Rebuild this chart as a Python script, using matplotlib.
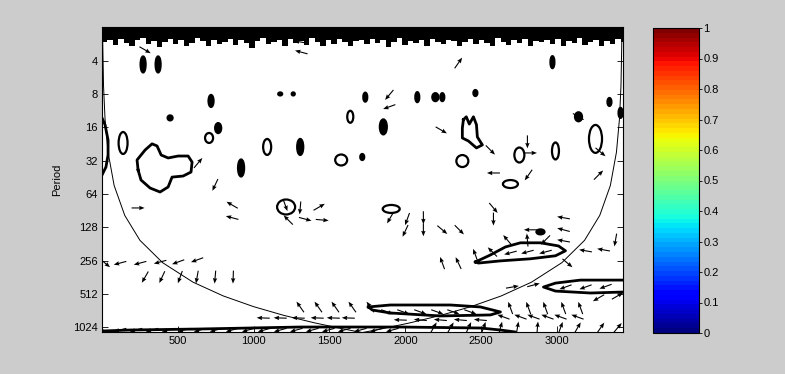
import numpy as np
import matplotlib as mpl
import matplotlib.pyplot as plt
from matplotlib.patches import Ellipse

plt.rcParams['font.family'] = ['Liberation Sans', 'DejaVu Sans']
plt.rcParams['font.size'] = 8

# axes
t_max = 3432
period_lim = [1.97, 1136]
period_ticks = [4, 8, 16, 32, 64, 128, 256, 512, 1024]
time_ticks = [500, 1000, 1500, 2000, 2500, 3000]
cbar_ticks = [0, 0.1, 0.2, 0.3, 0.4, 0.5, 0.6, 0.7, 0.8, 0.9, 1]

# ragged dark band at the shortest periods (lower edge, every 36 time steps)
band_period = [2.7, 2.6, 2.85, 2.55, 2.75, 2.9, 2.6, 2.5, 2.8, 2.65, 3.0, 2.7, 2.55, 2.8, 2.6, 2.9,
               2.75, 2.5, 2.65, 2.95, 2.6, 2.8, 2.7, 2.55, 2.85, 2.6, 2.75, 3.05, 2.65, 2.5, 2.8, 2.7,
               2.6, 2.9, 2.55, 2.75, 2.65, 2.85, 2.5, 2.7, 2.95, 2.6, 2.8, 2.55, 2.7, 2.9, 2.65, 2.6,
               2.8, 2.55, 2.75, 2.6, 3.0, 2.7, 2.5, 2.85, 2.65, 2.75, 2.6, 2.9, 2.55, 2.7, 2.8, 2.6,
               2.65, 2.9, 2.7, 2.55, 2.8, 2.6, 2.75, 2.95, 2.5, 2.7, 2.85, 2.6, 2.75, 2.55, 2.9, 2.65,
               2.7, 2.6, 2.8, 2.55, 2.9, 2.65, 2.75, 2.5, 2.85, 2.7, 2.6, 2.95, 2.65, 2.8, 2.55, 2.7]

# cone of influence
coi_t = [3, 10, 20, 40, 80, 150, 250, 400, 600, 800, 1000, 1200, 1400, 1600, 1716,
         1832, 2032, 2232, 2432, 2632, 2832, 3032, 3182, 3282, 3352, 3392, 3412, 3422, 3429]
coi_period = [2.0, 6.7, 13.4, 26.8, 53.6, 100, 168, 268, 402, 536, 670, 804, 938, 1072, 1150,
              1072, 938, 804, 670, 536, 402, 268, 168, 100, 53.6, 26.8, 13.4, 6.7, 2.0]

# thick contours (time, period)
duck_t = [238, 231, 284, 330, 363, 390, 436, 502, 568, 594, 587, 535, 462, 436, 383, 317, 257]
duck_p = [38.8, 31.5, 25.6, 22.5, 23.5, 28.4, 30.2, 29.0, 29.0, 32.9, 40.5, 44.0, 45.0, 55.3, 61.4, 56.5, 47.8]

edge_t = [0, 20, 40, 40, 26, 0]
edge_p = [13.1, 15.1, 20.8, 28.4, 36.5, 43.1]

heart_t = [2383, 2402, 2422, 2449, 2469, 2475, 2508, 2469, 2416, 2376, 2376]
heart_p = [13.6, 12.8, 14.9, 12.8, 15.1, 19.5, 23.0, 24.5, 21.2, 19.9, 16.2]

leaf_t = [2462, 2561, 2660, 2759, 2891, 3010, 3056, 2990, 2825, 2627, 2482]
leaf_p = [264, 228, 193, 177, 177, 189, 209, 232, 247, 258, 270]

right_t = [3500, 3432, 3155, 2990, 2911, 2990, 3221, 3432, 3500]
right_p = [385, 385, 385, 410, 445, 484, 504, 494, 494]

low_t = [1756, 1901, 2297, 2495, 2627, 2561, 2231, 1901, 1782]
low_p = [674, 647, 647, 674, 748, 796, 813, 764, 718]

bottom_t = [0, 185, 647, 1307, 1967, 2495, 2627, 2726, 2726, 0]
bottom_p = [1113, 1090, 1067, 1024, 1024, 1045, 1090, 1136, 1200, 1200]

# small closed contours: centre, width (time), height (octaves)
blob_t = [139, 271, 370, 719, 449, 766, 706, 917, 1089, 1307, 1214, 1577, 1716, 1637, 1736, 1855,
          1907, 2079, 2198, 2244, 2462, 2970, 3142, 3346, 2752, 2990, 3254, 2693, 2376, 2891, 3419,
          1175, 1261]
blob_p = [22.1, 4.3, 4.3, 9.2, 13.1, 16.2, 19.9, 37.2, 24.0, 24.0, 83.9, 31.5, 29.6, 12.8, 8.5, 15.8,
          87.4, 8.5, 8.5, 8.5, 7.8, 4.1, 12.8, 9.4, 28.4, 26.1, 20.3, 52, 32.2, 141, 11.8,
          7.95, 7.95]
blob_w = [59, 33, 33, 33, 33, 40, 53, 40, 53, 40, 119, 79, 26, 40, 26, 46,
          112, 26, 40, 26, 26, 26, 46, 26, 66, 46, 86, 99, 79, 53, 26,
          26, 20]
blob_h = [0.66, 0.48, 0.48, 0.36, 0.15, 0.30, 0.30, 0.51, 0.48, 0.48, 0.45, 0.33, 0.18, 0.36, 0.27, 0.45,
          0.24, 0.30, 0.24, 0.24, 0.18, 0.36, 0.27, 0.24, 0.45, 0.51, 0.84, 0.24, 0.36, 0.15, 0.30,
          0.09, 0.09]
blob_solid = [0, 1, 1, 1, 1, 1, 0, 1, 0, 1, 0, 0, 1, 0, 1, 1,
              0, 1, 1, 1, 1, 1, 1, 1, 0, 0, 0, 0, 0, 1, 1,
              1, 1]

# phase arrows: time, period, direction (degrees, counter-clockwise on screen)
arrow_t = [284, 1307, 1314, 634, 746, 238, 858, 858, 1208, 1307, 1432, 1228, 1340, 1452,
           20, 119, 251, 383, 502, 627, 284, 396, 515, 627, 746, 865,
           1307, 1426, 1538, 1650, 1769,
           1063, 1175, 1294, 1419, 1525, 1624, 1967, 2099, 2231, 2363, 2495,
           119, 224, 330, 436, 541, 647, 752, 858, 964, 1069, 1175, 1281, 1386, 1492, 1597, 1703, 1808, 1914,
           1894, 1894, 2350, 2237, 2561, 2805, 2825, 2581, 2812, 3274, 3142, 3287,
           1901, 2013, 2000, 2119, 2119, 2244, 2356, 2581, 2581, 3043, 3043, 2825, 3043, 2673, 2805, 2924,
           2462, 2574, 2693, 2805, 2924, 2244, 2350, 3188, 3307, 3386, 3069,
           2706, 2845, 3056, 3188, 3320, 3274, 3399,
           2693, 2812, 2924, 3043, 3155,
           2647, 2759, 2845, 2937, 3023, 3135,
           1881, 1987, 2099, 2211, 2317, 2429,
           2185, 2297, 2416, 2515, 2627, 2739, 2871, 3023, 3135, 3287, 3399]
arrow_p = [3.18, 2.69, 3.33, 33.5, 53, 85.6, 80.5, 105, 80.5, 85.6, 84, 110, 108, 110,
           270, 270, 270, 264, 264, 253, 362, 362, 362, 362, 362, 362,
           674, 674, 674, 674, 674,
           848, 848, 848, 848, 848, 848, 884, 884, 884, 884, 884,
           1090, 1090, 1090, 1090, 1090, 1090, 1090, 1090, 1090, 1090, 1090, 1090, 1090, 1090, 1090, 1090, 1090, 1090,
           8.12, 10.4, 4.17, 16.9, 25.6, 21.6, 27.2, 41.3, 43.1, 43.1, 12.8, 26.7,
           105, 108, 138, 105, 135, 135, 135, 85.6, 108, 105, 135, 135, 170, 167, 167, 167,
           228, 214, 218, 214, 214, 270, 270, 209, 205, 167, 270,
           445, 427, 445, 445, 440, 559, 536,
           688, 688, 688, 688, 688,
           830, 830, 830, 830, 830, 830,
           748, 748, 748, 748, 748, 748,
           1045, 1045, 1045, 1045, 1045, 1045, 1045, 1045, 1045, 1045, 1045]
arrow_dir = [-30, 170, 165, 50, 245, 0, 150, 165, 290, 265, 30, 135, -15, -5,
             -40, 195, 195, 195, 200, 200, 240, 245, 250, 260, 265, 268,
             125, 125, 125, 125, 125,
             178, 178, 178, 178, 178, 178, 178, 175, 175, 175, 175,
             195, 195, 195, 195, 195, 195, 195, 195, 195, 195, 195, 195, 195, 195, 195, 195, 195, 195,
             230, 200, 55, -30, -45, 270, 0, 180, 235, 45, -30, -40,
             240, 250, 245, 270, 270, -40, -45, -50, 270, 170, 165, 180, 170, 130, 95, 225,
             110, 135, 195, 195, 195, 110, 115, 170, 170, 260, -40,
             10, 15, 200, 200, 200, 210, 30,
             110, 110, 110, 110, 110,
             160, 160, 160, 160, 160, 160,
             -20, -20, -20, -20, -20, -20,
             60, 60, 65, 70, 75, 80, 85, 70, 60, 55, 50]

fig = plt.figure(figsize=(7.85, 3.74), dpi=100, facecolor=(0.8, 0.8, 0.8))
ax = fig.add_axes([102 / 785, 1 - 332 / 374, 520.5 / 785, 305 / 374])
ax.set_facecolor('white')

# dark band
bt = np.append(np.arange(len(band_period)) * 36, t_max)
bp = np.log2(np.append(band_period, band_period[-1]))
ax.fill_between(bt, bp, 0, step='post', color='black', lw=0)

# contours
for ct, cp in [(duck_t, duck_p), (heart_t, heart_p), (leaf_t, leaf_p), (right_t, right_p),
               (low_t, low_p), (bottom_t, bottom_p)]:
    ax.plot(ct + ct[:1], np.log2(cp + cp[:1]), color='black', lw=2.0)
ax.plot(edge_t, np.log2(edge_p), color='black', lw=2.0)

for x, p, w, h, s in zip(blob_t, blob_p, blob_w, blob_h, blob_solid):
    ax.add_patch(Ellipse((x, np.log2(p)), w, h, facecolor='black' if s else 'none',
                         edgecolor='black', lw=1.6))

# cone of influence
ax.plot(coi_t, np.log2(coi_period), color='black', lw=0.7)

# phase arrows
n = len(arrow_t)
ax.quiver(arrow_t, np.log2(arrow_p), np.ones(n), np.zeros(n), angles=arrow_dir,
          pivot='middle', units='dots', width=1.1, scale_units='dots', scale=1 / 13,
          headwidth=4, headlength=5, headaxislength=4.5, color='black')

ax.set_xlim(0, t_max)
ax.set_ylim(np.log2(period_lim[1]), np.log2(period_lim[0]))
ax.set_xticks(time_ticks)
ax.set_yticks(np.log2(period_ticks))
ax.set_yticklabels([str(p) for p in period_ticks])
ax.tick_params(direction='in', top=True, right=True, length=4, width=0.6, pad=3)
ax.set_ylabel('Period')
ax.yaxis.set_label_coords(-0.077, 0.5)
for s in ax.spines.values():
    s.set_linewidth(0.8)

# colour bar
cax = fig.add_axes([653 / 785, 1 - 333 / 374, 46 / 785, 305 / 374])
sm = mpl.cm.ScalarMappable(norm=mpl.colors.Normalize(0, 1), cmap=plt.get_cmap('jet', 64))
cb = fig.colorbar(sm, cax=cax)
cb.set_ticks(cbar_ticks)
cb.set_ticklabels(['%g' % v for v in cbar_ticks])
cb.outline.set_linewidth(0.8)
cax.tick_params(direction='out', length=2, width=0.6, pad=1)

fig.savefig('out.png', dpi=100, facecolor=fig.get_facecolor())
